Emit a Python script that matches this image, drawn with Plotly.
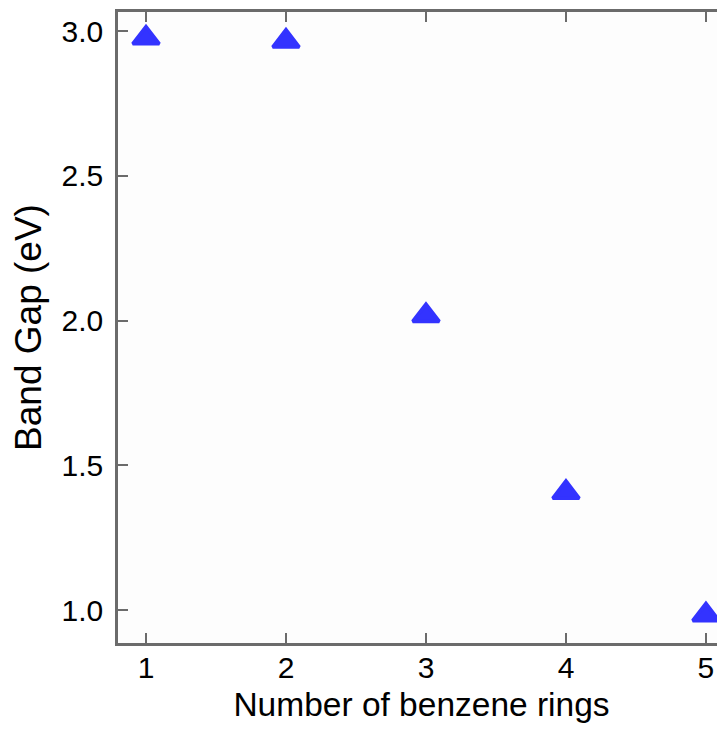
import plotly.graph_objects as go

rings = [1, 2, 3, 4, 5]
band_gap = [2.976, 2.965, 2.017, 1.406, 0.983]
x_ticks = [1, 2, 3, 4, 5]
y_ticks = [1.0, 1.5, 2.0, 2.5, 3.0]
y_tick_labels = ["1.0", "1.5", "2.0", "2.5", "3.0"]

AX = "#6b6b6b"
FONT = "Liberation Sans, Arial, Helvetica, sans-serif"
XR = [0.8, 5.136]
YR = [0.886, 3.066]

fig = go.Figure()
fig.add_trace(go.Scatter(
    x=rings, y=band_gap, mode="markers",
    marker=dict(symbol="triangle-up", size=23, color="#3333ff",
                line=dict(color="#3333ff", width=3.5)),
    showlegend=False,
))
# invisible trace carrying the right-side ticks and the x tick labels
fig.add_trace(go.Scatter(x=[rings[0]], y=[band_gap[0]], xaxis="x2", yaxis="y2",
                         mode="markers", marker=dict(opacity=0),
                         showlegend=False, hoverinfo="skip"))

fig.update_layout(
    width=717, height=721,
    margin=dict(l=110, r=0, t=4, b=86),
    paper_bgcolor="white", plot_bgcolor="#fdfdfd",
    font=dict(family=FONT, color="black"),
    xaxis=dict(
        range=XR, tickvals=x_ticks, ticks="inside", ticklen=10,
        tickwidth=2, tickcolor=AX, showline=True, linecolor=AX, linewidth=2.5,
        mirror="ticks", showgrid=False, zeroline=False,
        showticklabels=False,
        title=dict(text="Number of benzene rings", font=dict(size=33.5), standoff=48),
    ),
    xaxis2=dict(
        range=XR, tickvals=x_ticks, overlaying="x", side="bottom",
        anchor="free", position=0, ticks="", showline=False,
        showgrid=False, zeroline=False, tickfont=dict(size=30),
        ticklabelstandoff=4,
    ),
    yaxis=dict(
        range=YR, tickvals=y_ticks, ticktext=y_tick_labels, ticks="inside",
        ticklen=10, tickwidth=2, tickcolor=AX, showline=True, linecolor=AX,
        linewidth=2.5, mirror=False, showgrid=False, zeroline=False,
        tickfont=dict(size=30), ticklabelstandoff=6,
        title=dict(text="Band Gap (eV)", font=dict(size=37), standoff=9),
    ),
    yaxis2=dict(
        range=YR, tickvals=y_ticks, overlaying="y", side="right",
        anchor="x2",
        ticks="inside", ticklen=3, tickwidth=2, tickcolor=AX,
        showline=False, showticklabels=False, showgrid=False, zeroline=False,
    ),
)

fig.write_html("out.html")
